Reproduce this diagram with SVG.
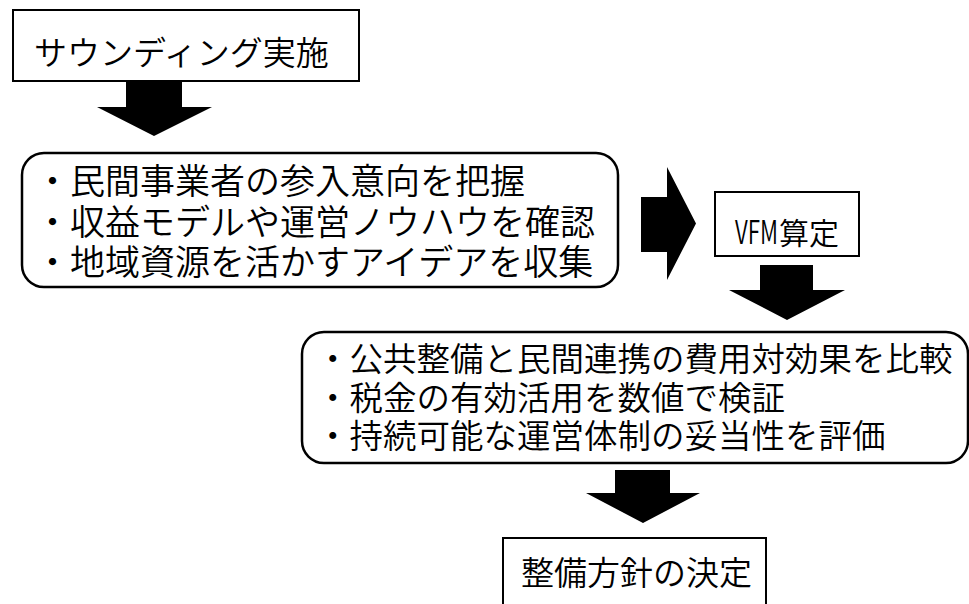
<svg xmlns="http://www.w3.org/2000/svg" width="969" height="604" viewBox="0 0 969 604">
<style>
.box{fill:#fff;stroke:#000;stroke-width:2}
.rbox{fill:#fff;stroke:#000;stroke-width:2.5}
.t{font-family:"Noto Sans CJK JP","Noto Sans",sans-serif;font-weight:350;fill:#000}
.s33{font-size:33px}
.s35{font-size:35px}
.s335{font-size:33.5px}
.arr{fill:#000;stroke:none}
</style>
<rect width="969" height="604" fill="#fff"/>
<g id="connectors">
<polygon class="arr" points="126,82 182,82 182,107 212,107 154,136 97,107 126,107"/>
<polygon class="arr" points="641,197 667,197 667,167 696,223.5 667,280 667,252 641,252"/>
<polygon class="arr" points="760,265 813,265 813,290 845,290 787,320 729,290 760,290"/>
<polygon class="arr" points="615,470 670,470 670,493 700,493 643,523 586,493 615,493"/>
</g>
<g id="node-sounding">
<rect class="box" x="13" y="10" width="346" height="71"/>
<text class="t s33" x="34" y="65">サウンディング実施</text>
</g>
<g id="node-sounding-detail">
<rect class="rbox" x="22" y="153" width="596" height="134" rx="22" ry="22"/>
<text class="t s35" x="35" y="194">・民間事業者の参入意向を把握</text>
<text class="t s35" x="35" y="235">・収益モデルや運営ノウハウを確認</text>
<text class="t s35" x="35" y="275">・地域資源を活かすアイデアを収集</text>
</g>
<g id="node-vfm">
<rect class="box" x="715" y="192" width="144" height="64"/>
<text class="t" x="735" y="244" style="font-size:33px"><tspan textLength="43" lengthAdjust="spacingAndGlyphs">VFM</tspan><tspan x="779" style="font-size:30px">算定</tspan></text>
</g>
<g id="node-vfm-detail">
<rect class="rbox" x="302" y="332" width="666" height="131" rx="22" ry="22"/>
<text class="t s335" x="316" y="371">・公共整備と民間連携の費用対効果を比較</text>
<text class="t s335" x="316" y="410">・税金の有効活用を数値で検証</text>
<text class="t s335" x="316" y="448">・持続可能な運営体制の妥当性を評価</text>
</g>
<g id="node-decision">
<rect class="box" x="503" y="538" width="263" height="80"/>
<text class="t s33" x="521" y="585">整備方針の決定</text>
</g>
</svg>
